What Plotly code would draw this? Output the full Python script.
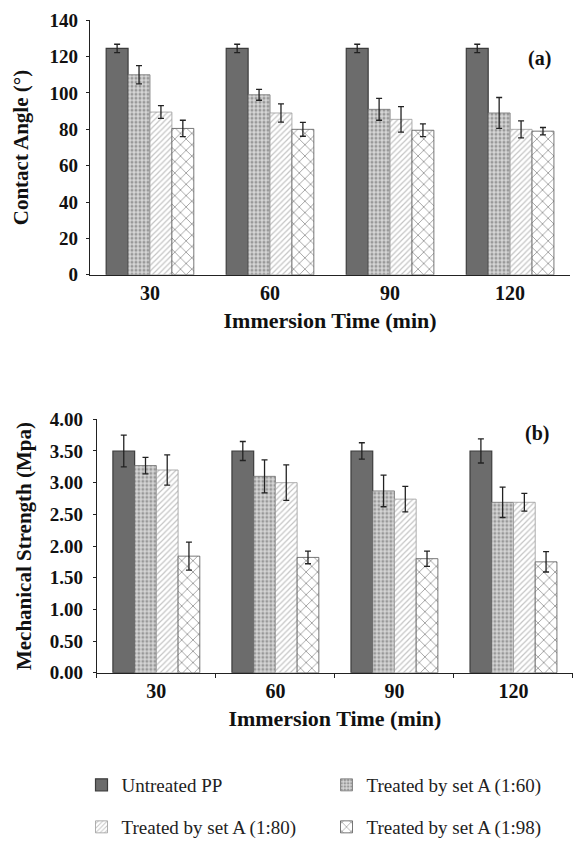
import plotly.graph_objects as go

categories = ["30", "60", "90", "120"]
series_names = ["Untreated PP", "Treated by set A (1:60)", "Treated by set A (1:80)", "Treated by set A (1:98)"]

# (a) Contact angle
ca_untreated = [124.5, 124.5, 124.5, 124.5]
ca_160 = [110, 99, 91, 89]
ca_180 = [89.5, 89, 85.5, 80]
ca_198 = [80.5, 80, 79.5, 79]
ca_err_untreated = [2.3, 2.3, 2.3, 2.3]
ca_err_160 = [5, 3, 6, 8.5]
ca_err_180 = [3.5, 5, 7, 4.7]
ca_err_198 = [4.5, 3.8, 3.5, 2]

# (b) Mechanical strength
ms_untreated = [3.5, 3.5, 3.5, 3.5]
ms_160 = [3.27, 3.1, 2.87, 2.69]
ms_180 = [3.2, 3.0, 2.74, 2.69]
ms_198 = [1.84, 1.82, 1.8, 1.75]
ms_err_untreated = [0.25, 0.15, 0.13, 0.19]
ms_err_160 = [0.13, 0.26, 0.25, 0.24]
ms_err_180 = [0.24, 0.28, 0.2, 0.14]
ms_err_198 = [0.22, 0.1, 0.12, 0.16]

FONT = "Liberation Serif"

styles = [
    dict(color="#6c6c6c", line=dict(color="#3c3c3c", width=1.2)),
    dict(color="#cfcfcf", line=dict(color="#707070", width=0.8),
         pattern=dict(shape=".", fgcolor="#5a5a5a", bgcolor="#d6d6d6", size=4, solidity=0.45)),
    dict(color="#ffffff", line=dict(color="#9a9a9a", width=0.8),
         pattern=dict(shape="/", fgcolor="#8a8a8a", bgcolor="#ffffff", size=4, solidity=0.3)),
    dict(color="#ffffff", line=dict(color="#555555", width=0.8),
         pattern=dict(shape="x", fgcolor="#2e2e2e", bgcolor="#ffffff", size=8, solidity=0.2)),
]
legends = ["legend", "legend", "legend2", "legend2"]

fig = go.Figure()
top_vals = [ca_untreated, ca_160, ca_180, ca_198]
top_errs = [ca_err_untreated, ca_err_160, ca_err_180, ca_err_198]
bot_vals = [ms_untreated, ms_160, ms_180, ms_198]
bot_errs = [ms_err_untreated, ms_err_160, ms_err_180, ms_err_198]

for i in range(4):
    fig.add_trace(go.Bar(
        x=categories, y=top_vals[i], name=series_names[i],
        marker=styles[i], legend=legends[i],
        error_y=dict(type="data", array=top_errs[i], color="#222222", thickness=1.3, width=3),
        xaxis="x", yaxis="y", showlegend=False))
for i in range(4):
    fig.add_trace(go.Bar(
        x=categories, y=bot_vals[i], name=series_names[i],
        marker=styles[i], legend=legends[i],
        error_y=dict(type="data", array=bot_errs[i], color="#222222", thickness=1.3, width=3),
        xaxis="x2", yaxis="y2", showlegend=True))

ytick_font = dict(family=FONT, size=19, color="#111111")
xtick_font = dict(family=FONT, size=20, color="#111111")
ytitle_font = dict(family=FONT, size=21, color="#111111")
xtitle_font = dict(family=FONT, size=22, color="#111111")
legend_font = dict(family=FONT, size=19, color="#222222")

fig.update_layout(
    width=573, height=843,
    margin=dict(l=0, r=0, t=0, b=0, autoexpand=False),
    paper_bgcolor="white", plot_bgcolor="white",
    barmode="group", bargap=0.27, bargroupgap=0,
    font=dict(family=FONT),
    xaxis=dict(domain=[0.157, 0.995], anchor="y", type="category", range=[-0.5, 3.5],
               autorange=False,
               showline=True, linecolor="#222", linewidth=1.2, showgrid=False,
               ticks="", tickfont=xtick_font, automargin=False,
               tickprefix="<b>", ticksuffix="</b>",
               title=dict(text="<b>Immersion Time (min)</b>", font=xtitle_font, standoff=9)),
    yaxis=dict(domain=[0.674, 0.976], anchor="x", range=[0, 140], dtick=20,
               showline=True, linecolor="#222", linewidth=1.2, showgrid=False,
               ticks="outside", ticklen=3, tickcolor="#222", tickfont=ytick_font,
               ticklabelstandoff=4,
               tickprefix="<b>", ticksuffix="</b>", automargin=False,
               title=dict(text="<b>Contact Angle (°)</b>", font=ytitle_font, standoff=15)),
    xaxis2=dict(domain=[0.169, 1.0], anchor="y2", type="category", range=[-0.5, 3.5],
                autorange=False,
                showline=True, linecolor="#222", linewidth=1.2, showgrid=False,
                ticks="outside", tickson="boundaries", ticklen=4, tickcolor="#222",
                tickfont=xtick_font, automargin=False,
                tickprefix="<b>", ticksuffix="</b>",
                title=dict(text="<b>Immersion Time (min)</b>", font=xtitle_font, standoff=9)),
    yaxis2=dict(domain=[0.202, 0.5026], anchor="x2", range=[0, 4], dtick=0.5, tickformat=".2f",
                showline=True, linecolor="#222", linewidth=1.2, showgrid=False,
                ticks="outside", ticklen=3, tickcolor="#222", tickfont=ytick_font,
                ticklabelstandoff=6,
                tickprefix="<b>", ticksuffix="</b>", automargin=False,
                title=dict(text="<b>Mechanical Strength (Mpa)</b>", font=ytitle_font, standoff=12)),
    legend=dict(orientation="h", x=81.5 / 573, y=1 - 785 / 843, yanchor="middle", xanchor="left",
                entrywidth=200, font=legend_font,
                bgcolor="rgba(0,0,0,0)", itemclick=False, itemdoubleclick=False),
    legend2=dict(orientation="h", x=81.5 / 573, y=1 - 827 / 843, yanchor="middle", xanchor="left",
                 entrywidth=200, font=legend_font,
                 bgcolor="rgba(0,0,0,0)", itemclick=False, itemdoubleclick=False),
    annotations=[
        dict(text="<b>(a)</b>", x=539 / 573, y=1 - 45 / 843, xref="paper", yref="paper",
             xanchor="center", showarrow=False, font=dict(family=FONT, size=20, color="#111")),
        dict(text="<b>(b)</b>", x=537 / 573, y=1 - 433 / 843, xref="paper", yref="paper",
             xanchor="center", showarrow=False, font=dict(family=FONT, size=20, color="#111")),
    ],
)

fig.write_html("out.html", config={"displayModeBar": False},
               post_script="document.body.style.margin='0';")
